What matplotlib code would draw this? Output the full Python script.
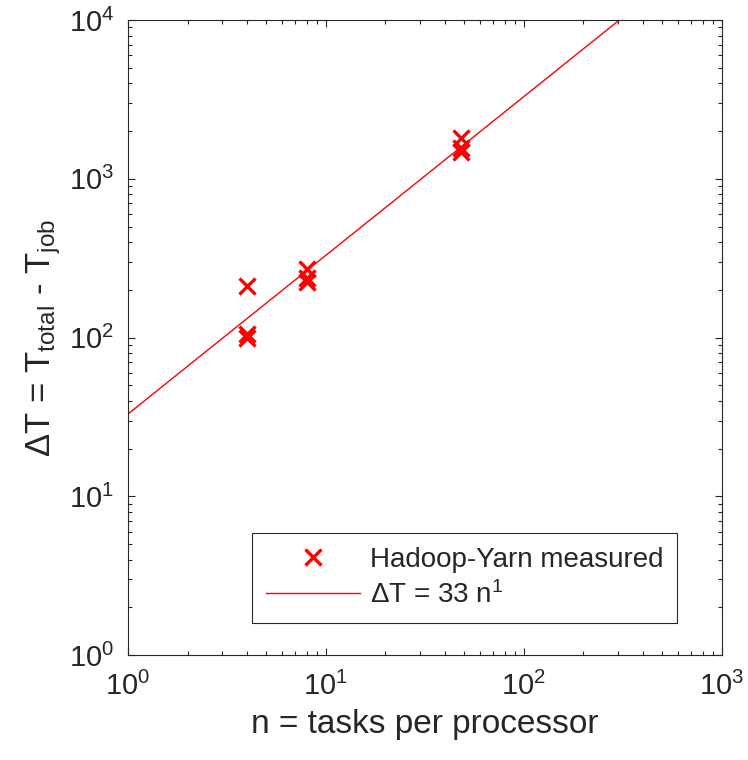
import numpy as np
import matplotlib
matplotlib.use("Agg")
from matplotlib import pyplot as plt
from matplotlib.ticker import FuncFormatter

plt.rcParams['font.family'] = ['Liberation Sans', 'DejaVu Sans']
plt.rcParams['mathtext.fontset'] = 'custom'
plt.rcParams['mathtext.rm'] = 'Liberation Sans'
plt.rcParams['mathtext.it'] = 'Liberation Sans'
plt.rcParams['mathtext.default'] = 'regular'

# measured points
tasks = [4, 4, 4, 8, 8, 8, 48, 48, 48]
delta_t = [100, 106, 212, 224, 238, 272, 1470, 1560, 1800]

# fit: dT = coef * n^exp
coef = 33
expo = 1
fit_n = np.array([1, 1000])


def pow10(v, pos):
    return r'$10^{%d}$' % round(np.log10(v))


fig = plt.figure(figsize=(7.48, 7.6), dpi=100)
ax = fig.add_axes([0.171, 0.138, 0.794, 0.8355])

ax.plot(tasks, delta_t, 'x', color='red', markersize=12, markeredgewidth=2.4,
        linestyle='none', label='Hadoop-Yarn measured')
ax.plot(fit_n, coef * fit_n ** expo, '-', color='red', linewidth=1,
        label=r'$\Delta$T = 33 n$^{1}$')

ax.set_xscale('log')
ax.set_yscale('log')
ax.set_xlim(1, 1000)
ax.set_ylim(1, 1e4)
ax.xaxis.set_major_formatter(FuncFormatter(pow10))
ax.yaxis.set_major_formatter(FuncFormatter(pow10))
ax.tick_params(which='both', direction='in', top=True, right=True, labelsize=21,
               colors='#262626', labelcolor='#262626')
ax.tick_params(axis='x', which='major', pad=12)
ax.tick_params(axis='y', which='major', pad=10)
ax.tick_params(which='major', length=5, width=0.8)
ax.tick_params(which='minor', length=3, width=0.8)
for s in ax.spines.values():
    s.set_linewidth(0.8)
    s.set_color('#262626')

ax.set_xlabel('n = tasks per processor', fontsize=24, labelpad=6, color='#262626')
ax.set_ylabel(r'$\Delta$T = T$_{total}$ - T$_{job}$', fontsize=25, labelpad=4,
              color='#262626')

leg = ax.legend(loc='upper left', bbox_to_anchor=(252 / 748, 1 - 533 / 760),
                bbox_transform=fig.transFigure, borderaxespad=0, fontsize=20,
                fancybox=False, edgecolor='#262626', framealpha=1,
                handlelength=3.4, handletextpad=0.35, borderpad=0.5,
                labelspacing=0.3)
leg.get_frame().set_linewidth(0.8)
for t in leg.get_texts():
    t.set_color('#262626')

fig.savefig('out.png', dpi=100)
